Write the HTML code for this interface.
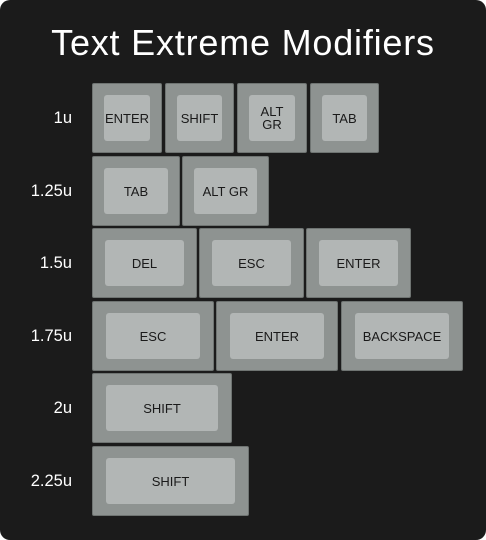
<!DOCTYPE html>
<html><head><style>
html,body{margin:0;padding:0;background:#fff;}
#c{position:relative;width:486px;height:540px;background:#1b1b1b;border-radius:10px;overflow:hidden;font-family:"Liberation Sans",sans-serif;}
.t{position:absolute;left:0;width:486px;top:22px;text-align:center;color:#fff;font-size:36px;letter-spacing:0.8px;}
.l{position:absolute;right:414px;color:#fff;font-size:16.5px;text-align:right;}
.k{position:absolute;background:#8e9391;border:1px solid #6f7472;box-sizing:border-box;border-radius:2px;}
.k .i{position:absolute;left:11px;right:11px;top:11px;bottom:11px;background:#b2b6b5;border-radius:3px;display:flex;align-items:center;justify-content:center;text-align:center;font-size:13px;color:#1a1a1a;line-height:13px;}
</style></head><body><div id="c">
<div class="t">Text Extreme Modifiers</div>

<div class="l" style="top:109px">1u</div>
<div class="l" style="top:182px">1.25u</div>
<div class="l" style="top:254px">1.5u</div>
<div class="l" style="top:327px">1.75u</div>
<div class="l" style="top:399px">2u</div>
<div class="l" style="top:472px">2.25u</div>

<div class="k" style="left:92px;top:83px;width:70px;height:70px"><div class="i">ENTER</div></div>
<div class="k" style="left:165px;top:83px;width:69px;height:70px"><div class="i">SHIFT</div></div>
<div class="k" style="left:237px;top:83px;width:70px;height:70px"><div class="i">ALT<br>GR</div></div>
<div class="k" style="left:310px;top:83px;width:69px;height:70px"><div class="i">TAB</div></div>

<div class="k" style="left:92px;top:156px;width:88px;height:70px"><div class="i">TAB</div></div>
<div class="k" style="left:182px;top:156px;width:87px;height:70px"><div class="i">ALT GR</div></div>

<div class="k" style="left:92px;top:228px;width:105px;height:70px"><div class="i" style="left:12px;right:12px">DEL</div></div>
<div class="k" style="left:199px;top:228px;width:105px;height:70px"><div class="i" style="left:12px;right:12px">ESC</div></div>
<div class="k" style="left:306px;top:228px;width:105px;height:70px"><div class="i" style="left:12px;right:12px">ENTER</div></div>

<div class="k" style="left:92px;top:301px;width:122px;height:70px"><div class="i" style="left:13px;right:13px">ESC</div></div>
<div class="k" style="left:216px;top:301px;width:122px;height:70px"><div class="i" style="left:13px;right:13px">ENTER</div></div>
<div class="k" style="left:341px;top:301px;width:122px;height:70px"><div class="i" style="left:13px;right:13px">BACKSPACE</div></div>

<div class="k" style="left:92px;top:373px;width:140px;height:70px"><div class="i" style="left:13px;right:13px">SHIFT</div></div>

<div class="k" style="left:92px;top:446px;width:157px;height:70px"><div class="i" style="left:13px;right:13px">SHIFT</div></div>
</div></body></html>
